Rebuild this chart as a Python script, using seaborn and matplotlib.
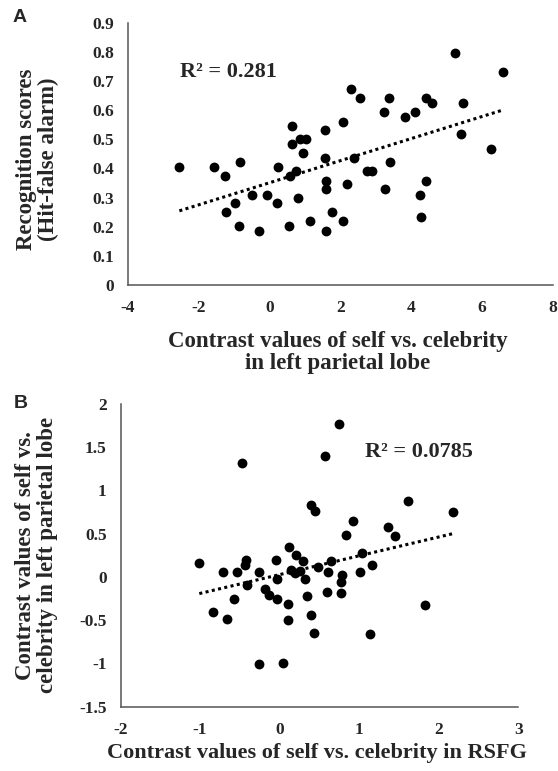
import numpy as np
import pandas as pd
import matplotlib
matplotlib.use("Agg")
import matplotlib.pyplot as plt
import seaborn as sns

sns.set_style("white")
plt.rcParams["font.family"] = ["Liberation Serif", "DejaVu Serif"]
plt.rcParams["font.weight"] = "bold"
plt.rcParams["axes.unicode_minus"] = False

# Panel A: contrast (left parietal lobe) vs recognition score
a_contrast = [-2.55, -1.56, -1.27, -0.83, -1.22, -0.98, -0.87, -0.51, -0.29, -0.07,
              0.21, 0.24, 0.54, 0.57, 0.62, 0.62, 0.73, 0.79, 0.85, 1.02,
              0.93, 1.14, 1.56, 1.56, 1.60, 1.60, 1.60, 1.75, 2.06, 2.06,
              2.18, 2.31, 2.38, 2.54, 2.74, 2.90, 3.24, 3.27, 3.36, 3.39,
              3.82, 4.10, 4.25, 4.28, 4.42, 4.42, 4.59, 5.24, 5.39, 5.46,
              6.25, 6.58]
a_score = [0.405, 0.405, 0.374, 0.422, 0.250, 0.280, 0.202, 0.310, 0.186, 0.310,
           0.280, 0.405, 0.202, 0.374, 0.546, 0.483, 0.390, 0.297, 0.500, 0.500,
           0.452, 0.220, 0.530, 0.435, 0.358, 0.328, 0.186, 0.250, 0.220, 0.560,
           0.345, 0.671, 0.435, 0.642, 0.392, 0.392, 0.594, 0.328, 0.642, 0.422,
           0.576, 0.594, 0.310, 0.233, 0.358, 0.642, 0.624, 0.796, 0.517, 0.624,
           0.468, 0.731]

# Panel B: contrast in RSFG vs contrast in left parietal lobe
b_rsfg = [-1.01, -0.84, -0.71, -0.66, -0.57, -0.53, -0.47, -0.44, -0.42, -0.41,
          -0.26, -0.26, -0.19, -0.14, -0.04, -0.03, -0.03, 0.04, 0.10, 0.11,
          0.12, 0.14, 0.19, 0.21, 0.26, 0.29, 0.32, 0.35, 0.40, 0.40,
          0.44, 0.43, 0.48, 0.57, 0.60, 0.61, 0.65, 0.74, 0.77, 0.77,
          0.78, 0.83, 0.92, 1.01, 1.03, 1.13, 1.16, 1.36, 1.45, 1.61,
          1.83, 2.18]
b_parietal = [0.158, -0.410, 0.054, -0.485, -0.260, 0.054, 1.315, 0.142, 0.200, -0.088,
              0.054, -1.004, -0.138, -0.204, 0.200, -0.023, -0.260, -0.992, -0.308, -0.492,
              0.346, 0.077, 0.046, 0.250, 0.065, 0.188, -0.023, -0.223, -0.438, 0.830,
              0.765, -0.646, 0.112, 1.400, -0.169, 0.054, 0.188, 1.765, -0.185, -0.058,
              0.019, 0.488, 0.646, 0.054, 0.273, -0.654, 0.142, 0.577, 0.477, 0.880,
              -0.323, 0.746]

df_a = pd.DataFrame({"x": a_contrast, "y": a_score})
df_b = pd.DataFrame({"x": b_rsfg, "y": b_parietal})

fig = plt.figure(figsize=(5.58, 7.71), dpi=100)
ax_a = fig.add_axes([0.2294, 0.6304, 0.7616, 0.3402])
ax_b = fig.add_axes([0.2160, 0.0834, 0.7129, 0.3926])

scatter_kws = dict(s=50, color="black", linewidths=0, alpha=1)
line_kws = dict(color="black", linestyle=(0, (1, 1.1)), linewidth=2.2)

LABEL_SIZE = 16.5
TICK_SIZE = 12.5


def style_axis(ax):
    for side in ["top", "right"]:
        ax.spines[side].set_visible(False)
    for side in ["left", "bottom"]:
        ax.spines[side].set_color("#555555")
        ax.spines[side].set_linewidth(1.1)
    ax.tick_params(direction="in", length=4, width=1, color="#555555",
                   labelsize=TICK_SIZE)
    ax.tick_params(axis="y", pad=10)
    ax.tick_params(axis="x", pad=11)
    for lab in ax.get_xticklabels() + ax.get_yticklabels():
        lab.set_fontweight("bold")


# panel A
sns.regplot(data=df_a, x="x", y="y", ax=ax_a, ci=None,
            scatter_kws=scatter_kws, line_kws=line_kws)
ax_a.set_xlim(-4, 8)
ax_a.set_ylim(0, 0.9)
ax_a.set_xticks(np.arange(-4, 9, 2))
ax_a.set_yticks(np.arange(0, 0.91, 0.1))
ax_a.set_yticklabels(["0", "0.1", "0.2", "0.3", "0.4", "0.5", "0.6", "0.7", "0.8", "0.9"])
style_axis(ax_a)
ax_a.set_xlabel("Contrast values of self vs. celebrity\nin left parietal lobe",
                fontsize=LABEL_SIZE, fontweight="bold", linespacing=1.05, va="top")
ax_a.xaxis.set_label_coords(0.494, -0.175)
ax_a.set_ylabel("Recognition scores\n(Hit-false alarm)", fontsize=LABEL_SIZE,
                fontweight="bold", linespacing=1.05, va="center")
ax_a.yaxis.set_label_coords(-0.214, 0.48)
ax_a.text(-2.52, 0.73, "R² = 0.281", fontsize=16, fontweight="bold", va="center")

# panel B
sns.regplot(data=df_b, x="x", y="y", ax=ax_b, ci=None,
            scatter_kws=scatter_kws, line_kws=line_kws)
ax_b.set_xlim(-2, 3)
ax_b.set_ylim(-1.5, 2)
ax_b.set_xticks(np.arange(-2, 4, 1))
ax_b.set_yticks(np.arange(-1.5, 2.01, 0.5))
ax_b.set_yticklabels(["-1.5", "-1", "-0.5", "0", "0.5", "1", "1.5", "2"])
style_axis(ax_b)
ax_b.set_xlabel("Contrast values of self vs. celebrity in RSFG",
                fontsize=16, fontweight="bold", va="center")
ax_b.xaxis.set_label_coords(0.494, -0.152)
ax_b.set_ylabel("Contrast values of self vs.\ncelebrity in left parietal lobe",
                fontsize=LABEL_SIZE, fontweight="bold", linespacing=1.05, va="center")
ax_b.yaxis.set_label_coords(-0.211, 0.5)
ax_b.text(1.07, 1.45, "R² = 0.0785", fontsize=16, fontweight="bold", va="center")

fig.text(0.023, 0.9715, "A", fontsize=14, fontweight="bold", family="Liberation Sans")
fig.text(0.025, 0.4708, "B", fontsize=14, fontweight="bold", family="Liberation Sans")

fig.savefig("out.png", dpi=100)
